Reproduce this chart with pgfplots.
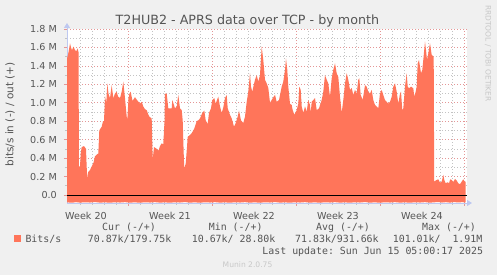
\documentclass[border=0pt]{standalone}
\usepackage{fontspec}
\setmainfont{DejaVu Sans}
\setmonofont{DejaVu Sans Mono}
\usepackage{pgfplots}
\pgfplotsset{compat=1.18}
\usetikzlibrary{arrows.meta}
\definecolor{bg}{RGB}{240,240,240}
\definecolor{sal}{RGB}{255,117,90}
\definecolor{majgrid}{RGB}{228,150,150}
\definecolor{mingrid}{RGB}{195,195,195}
\definecolor{axc}{RGB}{190,200,240}
\definecolor{txt}{RGB}{85,85,85}
\definecolor{faint}{RGB}{200,200,200}
\newcommand\tickfont{\fontsize{9.6bp}{11bp}\selectfont}
\newcommand\monofont{\ttfamily\fontsize{9.9bp}{11bp}\selectfont}
\begin{document}
\begin{tikzpicture}
\fill[bg] (0bp,0bp) rectangle (497bp,275bp);
\begin{axis}[
  at={(67bp,72bp)}, anchor=south west,
  scale only axis, width=400bp, height=174bp,
  xmin=67, xmax=467, ymin=-0.087, ymax=1.8,
  axis background/.style={fill=white},
  axis lines=left,
  every outer x axis line/.append style={draw=axc, line width=0.8bp, -{Triangle[length=5bp,width=6bp]}, shorten >=-5bp},
  every outer y axis line/.append style={draw=axc, line width=0.8bp, -{Triangle[length=5bp,width=6bp]}, shorten >=-6bp},
  xtick={128,212,296,380,464},
  xticklabels={Week 20,Week 21,Week 22,Week 23,Week 24},
  minor xtick={80,92,104,116,140,152,164,176,188,200,224,236,248,260,272,284,308,320,332,344,356,368,392,404,416,428,440,452},
  ytick={0,0.2,0.4,0.6,0.8,1.0,1.2,1.4,1.6,1.8},
  yticklabels={0.0,0.2 M,0.4 M,0.6 M,0.8 M,1.0 M,1.2 M,1.4 M,1.6 M,1.8 M},
  minor ytick={0.1,0.3,0.5,0.7,0.9,1.1,1.3,1.5,1.7},
  grid=both,
  major grid style={draw=majgrid, dash pattern=on 1bp off 2bp, line width=0.6bp},
  minor grid style={draw=mingrid, dash pattern=on 1bp off 2bp, line width=0.6bp},
  tick align=outside,
  major tick length=3bp, minor tick length=2bp,
  major tick style={draw=majgrid, line width=0.6bp},
  minor tick style={draw=mingrid, line width=0.6bp},
  xticklabel style={font=\tickfont, text=txt, anchor=base, xshift=-42bp, yshift=-13bp},
  yticklabel style={font=\tickfont, text=txt, anchor=east, inner sep=0pt, xshift=-7bp},
  ylabel={bits/s in (-) / out (+)},
  every axis y label/.style={at={(axis description cs:-0.1425,0.509)}, rotate=90, anchor=center, font=\fontsize{10.5bp}{12bp}\selectfont, text=txt},
  title={T2HUB2 - APRS data over TCP - by month},
  every axis title/.style={at={(axis description cs:0.451,1.0287)}, anchor=base, font=\fontsize{12.7bp}{14bp}\selectfont, text=txt},
]
% out (+)
\addplot[fill=sal, draw=none] coordinates {
(67,1.48) (68,1.52) (69,1.58) (70,1.645) (71,1.60) (72,1.57) (73.5,1.61) (75,1.57) (76.5,1.56) (77.5,1.59) (78.5,1.55)
(79,0.31) (80,0.31) (80.7,0.45) (81.7,0.52) (84,0.53) (86,0.50) (86.7,0.30) (87.3,0.18) (88.3,0.25) (90,0.27)
(91.7,0.31) (93.5,0.35) (95,0.42) (97,0.44) (98.3,0.45) (99.3,0.70) (101.7,0.74) (103,0.80) (104,0.80) (105,1.07)
(106.3,1.00) (107.3,1.21) (108.5,1.10) (110,1.05) (111.7,1.19) (113.3,1.05) (115,1.10) (116.7,1.12) (118,1.07)
(120,1.05) (121.7,1.12) (123.3,1.23) (125,1.05) (126.7,0.85) (127.3,0.81) (128.5,1.05) (129.5,1.10) (130.7,1.12)
(132.5,1.02) (135,1.06) (137,1.03) (140,0.99) (141.7,1.01) (143.3,0.96) (145,0.93) (146.7,0.92) (148,0.88)
(149.3,0.85) (151.7,0.83) (152.7,0.38) (154,0.52) (156.7,0.50) (158.5,0.48) (160,0.53) (161.7,0.56) (163.3,0.55)
(164.5,0.80) (165,1.10) (166.7,1.10) (168.3,0.94) (171.7,0.94) (172.3,1.03) (175,0.94) (176.7,0.96) (178.3,1.085)
(180,0.94) (181.7,0.92) (182.7,0.81) (183.7,0.45) (184.3,0.29) (185.7,0.34) (187,0.52) (187.7,0.63) (190,0.65)
(191.7,0.67) (194.3,0.72) (196.7,0.80) (198.3,0.81) (200,0.83) (202.3,0.89) (204.3,0.915) (205.7,0.81) (207.7,0.77)
(209,0.89) (211,0.94) (212.3,1.03) (214.3,1.05) (215.7,0.99) (217,1.03) (218.3,1.066) (220,0.96) (221.7,0.89)
(223.3,0.95) (225,1.05) (226.7,1.085) (227.7,0.94) (230,0.87) (231.7,0.83) (234,0.74) (235.7,0.78) (237.7,0.85)
(239,0.915) (241,0.81) (243.3,0.78) (245,0.85) (246.7,1.01) (248.3,1.12) (250,1.32) (251,1.175) (252.3,1.12)
(253.7,1.19) (255,1.25) (256.7,1.30) (258.3,1.23) (260,1.30) (261.7,1.61) (263.3,1.464) (265,1.25) (266.7,1.21)
(268.3,1.16) (270,1.0) (271.7,1.03) (273.3,1.06) (275,1.085) (276.7,1.01) (279,1.03) (281.7,1.175) (283.3,1.23)
(285,1.356) (286,1.48) (287.3,1.356) (288.3,1.175) (290,0.99) (291.7,0.976) (292.7,0.92) (294.3,0.87) (296.7,0.92)
(298.3,0.99) (299.3,1.175) (300.7,1.14) (301.7,0.96) (303.3,0.89) (305,0.96) (306.7,0.904) (308.3,1.03) (310,0.976)
(310.7,0.89) (311.7,1.01) (313.3,1.03) (315,1.05) (316.7,0.92) (319,0.94) (321.7,1.03) (323.3,1.12) (325,1.30)
(326.7,1.25) (328.3,1.21) (330,1.066) (331.7,1.265) (333.3,1.356) (335,1.428) (336.7,1.32) (338.3,1.28) (340,1.066)
(341.7,0.89) (343.3,1.03) (345,1.21) (346.7,1.32) (348.3,1.25) (350,1.14) (351.7,1.16) (353.3,1.085) (355,1.14)
(356.7,1.10) (358.3,1.25) (359.3,1.265) (360.7,1.085) (362.7,1.03) (365,1.19) (366.7,1.175) (368.3,1.12) (370,1.10)
(371.7,1.14) (373.3,1.03) (375,0.976) (376.7,0.96) (378.3,0.94) (380,1.10) (381.7,1.14) (383.3,1.085) (385,1.03)
(386.7,1.01) (388.3,0.99) (390,1.01) (391.7,1.066) (393.3,1.175) (395,1.21) (396.7,1.12) (398.3,0.99) (400,1.10)
(401,1.12) (402.3,0.92) (403.3,0.94) (405,1.175) (406.7,1.32) (407.7,1.175) (409,1.157) (411,1.175) (413.3,1.157)
(414.3,1.066) (415.7,1.12) (416.7,1.175) (417.7,1.428) (419,1.464) (421,1.32) (422.3,1.356) (423.3,1.464) (425,1.663)
(426,1.573) (427,1.464) (428.3,1.537) (430,1.645) (431.7,1.519) (433.7,1.50) (434.2,0.145) (436.7,0.163) (438.3,0.17)
(440,0.134) (441.7,0.145) (443.3,0.217) (444.3,0.163) (445.7,0.127) (447.7,0.138) (449,0.127) (450.3,0.17)
(451.7,0.163) (453.3,0.141) (455,0.174) (456.7,0.156) (458.3,0.127) (460,0.116) (461.7,0.145) (463.3,0.17)
(464.7,0.145) (465.7,0.145)
} \closedcycle;
% in (-)
\addplot[fill=sal, draw=none] coordinates {
(67,-0.080) (72,-0.084) (76,-0.078) (80,-0.083) (85,-0.079) (90,-0.082) (95,-0.077) (100,-0.083) (105,-0.080)
(110,-0.084) (115,-0.079) (120,-0.082) (125,-0.078) (130,-0.083) (135,-0.080) (140,-0.084) (145,-0.079) (150,-0.082)
(155,-0.078) (160,-0.083) (165,-0.080) (170,-0.084) (175,-0.079) (180,-0.082) (185,-0.077) (190,-0.083) (195,-0.080)
(200,-0.084) (205,-0.079) (210,-0.082) (215,-0.078) (220,-0.083) (225,-0.080) (230,-0.084) (235,-0.079) (240,-0.082)
(245,-0.078) (250,-0.083) (255,-0.080) (260,-0.084) (265,-0.079) (270,-0.082) (275,-0.077) (280,-0.083) (285,-0.080)
(290,-0.084) (295,-0.079) (300,-0.082) (305,-0.078) (310,-0.083) (315,-0.080) (320,-0.084) (325,-0.079) (330,-0.082)
(335,-0.078) (340,-0.083) (345,-0.080) (350,-0.084) (355,-0.079) (360,-0.082) (365,-0.077) (370,-0.083) (375,-0.080)
(380,-0.084) (385,-0.079) (390,-0.082) (395,-0.078) (400,-0.083) (405,-0.080) (410,-0.084) (415,-0.079) (420,-0.082)
(425,-0.078) (430,-0.083) (434,-0.080) (438,-0.076) (442,-0.082) (446,-0.078) (450,-0.083) (454,-0.077) (458,-0.081)
(462,-0.078) (465.7,-0.080)
} \closedcycle;
\draw[black, line width=0.9bp] (axis cs:67,0) -- (axis cs:467,0);
\end{axis}
% right-side credit
\node[rotate=-90, text=faint, font=\fontsize{7.5bp}{9bp}\selectfont] at (488bp,221.5bp) {RRDTOOL / TOBI OETIKER};
% legend
\node[anchor=base west, inner sep=0pt, text=txt, font=\monofont] at (102bp,44bp) {Cur (-/+)};
\node[anchor=base west, inner sep=0pt, text=txt, font=\monofont] at (208.7bp,44bp) {Min (-/+)};
\node[anchor=base west, inner sep=0pt, text=txt, font=\monofont] at (316bp,44bp) {Avg (-/+)};
\node[anchor=base west, inner sep=0pt, text=txt, font=\monofont] at (422bp,44bp) {Max (-/+)};
\node[anchor=south west, inner sep=0pt] at (14bp,33bp) {\textcolor{sal}{\rule{6.5bp}{6.5bp}}};
\node[anchor=base west, inner sep=0pt, text=txt, font=\monofont] at (25.3bp,32.3bp) {Bits/s};
\node[anchor=base west, inner sep=0pt, text=txt, font=\monofont] at (87.7bp,32.3bp) {70.87k/179.75k};
\node[anchor=base west, inner sep=0pt, text=txt, font=\monofont] at (191.7bp,32.3bp) {10.67k/~28.80k};
\node[anchor=base west, inner sep=0pt, text=txt, font=\monofont] at (295bp,32.3bp) {71.83k/931.66k};
\node[anchor=base west, inner sep=0pt, text=txt, font=\monofont] at (392.7bp,32.3bp) {101.01k/~~1.91M};
\node[anchor=base east, inner sep=0pt, text=txt, font=\monofont] at (483.2bp,20.7bp) {Last update: Sun Jun 15 05:00:17 2025};
\node[anchor=base west, inner sep=0pt, text=faint, font=\fontsize{7.6bp}{9bp}\selectfont] at (222.5bp,8bp) {Munin 2.0.75};
\pgfresetboundingbox
\useasboundingbox (0bp,0bp) rectangle (497bp,275bp);
\end{tikzpicture}
\end{document}
